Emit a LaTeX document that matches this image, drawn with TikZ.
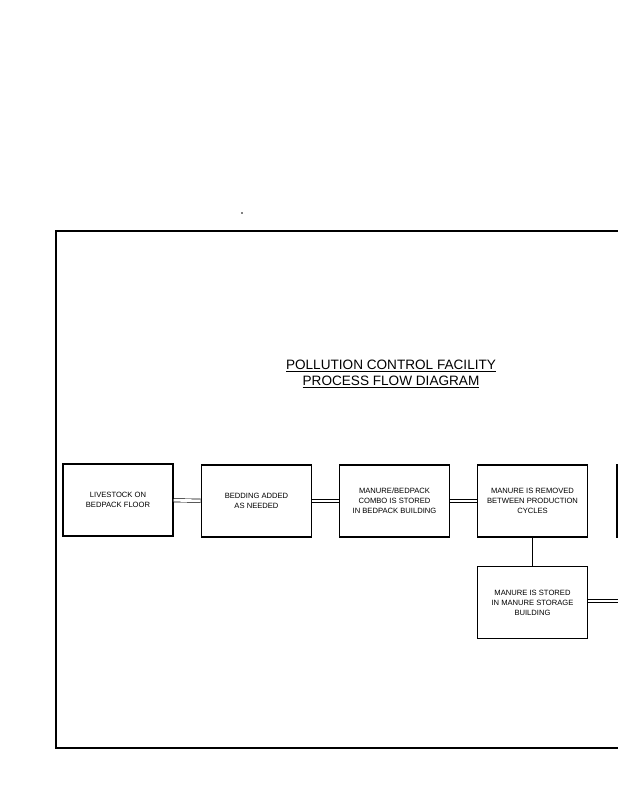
\documentclass[tikz,border=0pt]{standalone}
\usepackage{fontspec}
\setmainfont{Liberation Sans}

\begin{document}
\begin{tikzpicture}[x=0.03cm, y=-0.03cm,
    every node/.style={font=\fontsize{6.5}{8.6}\selectfont, align=center},
    procbox/.style={draw, line width=1.1pt, minimum width=3.3cm, minimum height=2.16cm, inner sep=2pt},
    flow/.style={double, double distance=2.2pt, line width=0.6pt}]
  % Hoja
  \useasboundingbox (0,0) rectangle (618,800);
  \clip (0,0) rectangle (618,800);
  \fill (242,213) circle (0.8);

  % Marco
  \draw[line width=2pt] (660,231) -- (56,231) -- (56,748) -- (660,748);

  % Titulo
  \node[font=\fontsize{11.6}{14.2}\selectfont] (title) at (391,374)
    {\underline{POLLUTION CONTROL FACILITY}\\ \underline{PROCESS FLOW DIAGRAM}};

  % Cajas
  \node[procbox] (livestock)  at (118,500)   {LIVESTOCK ON\\ BEDPACK FLOOR};
  \node[procbox, line width=1.4pt] (bedding) at (256.5,501) {BEDDING ADDED\\ AS NEEDED};
  \node[procbox] (storedpack) at (394.5,501) {MANURE/BEDPACK\\ COMBO IS STORED\\ IN BEDPACK BUILDING};
  \node[procbox] (removed)    at (532.5,501) {MANURE IS REMOVED\\ BETWEEN PRODUCTION\\ CYCLES};
  \node[procbox] (storage)    at (532.5,602.5) {MANURE IS STORED\\ IN MANURE STORAGE\\ BUILDING};
  \node[procbox] (nextbox)    at (672,501) {};
  \coordinate (exitpt) at (630,601);

  % Flujo
  \draw[flow] (livestock) -- (bedding);
  \draw[flow] (bedding) -- (storedpack);
  \draw[flow] (storedpack) -- (removed);
  \draw[line width=0.8pt] (removed) -- (storage);
  \draw[flow] (storage.east |- exitpt) -- (exitpt);
\end{tikzpicture}
\end{document}
